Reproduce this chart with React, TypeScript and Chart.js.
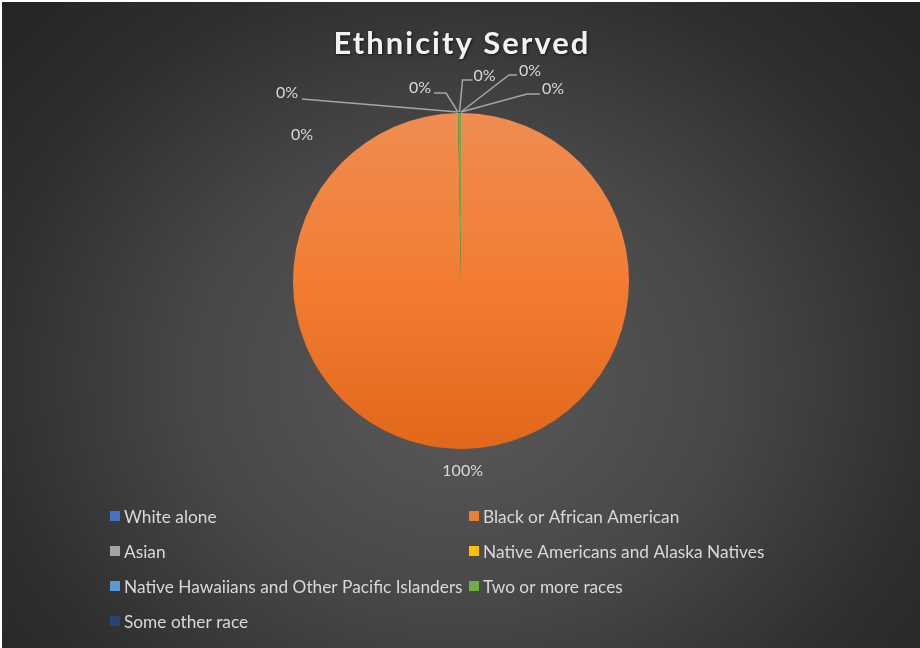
import React, { useEffect, useRef } from "react";
import { Chart, registerables } from "chart.js";

Chart.register(...registerables);

// ---------- data ----------
const chartTitle = "Ethnicity Served";
const categories = [
  "White alone",
  "Black or African American",
  "Asian",
  "Native Americans and Alaska Natives",
  "Native Hawaiians and Other Pacific Islanders",
  "Two or more races",
  "Some other race",
];
const counts = [0, 356, 0, 0, 0, 1, 0];
const sliceColors = ["#4472C4", "#ED7D31", "#A5A5A5", "#FFC000", "#5B9BD5", "#70AD47", "#264478"];

// ---------- label placement (style, px relative to slice anchor) ----------
type Placement = { radial?: number; dx?: number; dy?: number; line?: number[][] | null };
const labelPlacement: Placement[] = [
  { dx: 92, dy: -24, line: [[66, -19], [79, -19]] },
  { radial: 22 },
  { dx: -171, dy: -20, line: [[-156, -14]] },
  { dx: -156, dy: 22, line: null },
  { dx: -38, dy: -25, line: [[-12, -20], [-24, -20]] },
  { dx: 25, dy: -37, line: [[3, -33], [13, -33]] },
  { dx: 69, dy: -42, line: [[48, -38], [56, -38]] },
];

const FONT = "Lato, 'Open Sans', sans-serif";
const TEXT_COLOR = "#D9D9D9";

const backgroundPlugin = {
  id: "bgGradient",
  beforeDraw(chart: any) {
    const { ctx, width, height } = chart;
    ctx.save();
    const cx = width / 2;
    const cy = height * 0.58;
    ctx.translate(cx, cy);
    ctx.scale(1.15, 1);
    const g = ctx.createRadialGradient(0, 0, 0, 0, 0, 520);
    g.addColorStop(0, "#5A5A5A");
    g.addColorStop(0.45, "#474747");
    g.addColorStop(0.8, "#2E2E2E");
    g.addColorStop(1, "#262626");
    ctx.fillStyle = g;
    ctx.fillRect(-cx / 1.15 - 10, -cy - 10, width / 1.15 + 20, height + 20);
    ctx.restore();
  },
};

const titlePlugin = {
  id: "customTitle",
  afterDraw(chart: any) {
    const { ctx, width } = chart;
    ctx.save();
    ctx.font = `bold 31px ${FONT}`;
    (ctx as any).letterSpacing = "2px";
    ctx.textAlign = "center";
    ctx.textBaseline = "alphabetic";
    ctx.shadowColor = "rgba(0,0,0,0.6)";
    ctx.shadowBlur = 3;
    ctx.shadowOffsetX = 1;
    ctx.shadowOffsetY = 1;
    ctx.fillStyle = "#F2F2F2";
    ctx.fillText(chartTitle, width / 2 + 1, 52);
    ctx.restore();
  },
};

const labelsPlugin = {
  id: "pctLabels",
  afterDatasetsDraw(chart: any) {
    const { ctx } = chart;
    const meta = chart.getDatasetMeta(0);
    const values: number[] = chart.data.datasets[0].data;
    const total = values.reduce((a, b) => a + b, 0);
    ctx.save();
    ctx.font = `16px ${FONT}`;
    ctx.fillStyle = TEXT_COLOR;
    ctx.textAlign = "center";
    ctx.textBaseline = "middle";
    meta.data.forEach((arc: any, i: number) => {
      const p = arc.getProps(["x", "y", "startAngle", "endAngle", "outerRadius"], true);
      const mid = (p.startAngle + p.endAngle) / 2;
      const ax = p.x + Math.cos(mid) * p.outerRadius;
      const ay = p.y + Math.sin(mid) * p.outerRadius;
      const pl = labelPlacement[i];
      const text = Math.round((values[i] / total) * 100) + "%";
      let lx: number, ly: number;
      if (pl.radial !== undefined) {
        lx = ax + Math.cos(mid) * pl.radial;
        ly = ay + Math.sin(mid) * pl.radial;
      } else {
        lx = ax + (pl.dx || 0);
        ly = ay + (pl.dy || 0);
        if (pl.line) {
          ctx.save();
          ctx.strokeStyle = "#A6A6A6";
          ctx.lineWidth = 1.5;
          ctx.beginPath();
          ctx.moveTo(ax, ay - 1);
          pl.line.forEach((pt) => ctx.lineTo(ax + pt[0], ay + pt[1]));
          ctx.stroke();
          ctx.restore();
        }
      }
      ctx.fillText(text, lx, ly);
    });
    ctx.restore();
  },
};

const legendPlugin = {
  id: "gridLegend",
  afterDraw(chart: any) {
    const { ctx } = chart;
    const labels: string[] = chart.data.labels;
    const cols = [108, 467];
    const rowY0 = 514;
    const rowGap = 35;
    ctx.save();
    ctx.font = `17.3px ${FONT}`;
    ctx.textAlign = "left";
    ctx.textBaseline = "middle";
    labels.forEach((lab, i) => {
      const col = i % 2;
      const row = Math.floor(i / 2);
      const x = cols[col];
      const y = rowY0 + row * rowGap;
      ctx.fillStyle = sliceColors[i];
      ctx.fillRect(x, y - 5, 10, 10);
      ctx.fillStyle = TEXT_COLOR;
      ctx.fillText(lab, x + 14, y + 1);
    });
    ctx.restore();
  },
};

export default function App() {
  const canvasRef = useRef<HTMLCanvasElement | null>(null);

  useEffect(() => {
    document.body.style.margin = "0";
    const canvas = canvasRef.current;
    if (!canvas) return;
    const chart = new Chart(canvas, {
      type: "pie",
      data: {
        labels: categories,
        datasets: [
          {
            data: counts,
            backgroundColor: (c: any) => {
              const i = c.dataIndex;
              if (i === 1 && c.chart.chartArea) {
                const { top, bottom } = c.chart.chartArea;
                const g = c.chart.ctx.createLinearGradient(0, top, 0, bottom);
                g.addColorStop(0, "#F08C52");
                g.addColorStop(0.5, "#F27D32");
                g.addColorStop(1, "#E2671A");
                return g;
              }
              return sliceColors[i];
            },
            borderWidth: 0,
            hoverOffset: 0,
            offset: 0,
          },
        ],
      },
      options: {
        animation: false,
        responsive: true,
        maintainAspectRatio: false,
        layout: { padding: { top: 111, bottom: 199, left: 0, right: 0 } },
        plugins: {
          legend: { display: false },
          title: { display: false },
          tooltip: { enabled: false },
        },
      },
      plugins: [backgroundPlugin, labelsPlugin, titlePlugin, legendPlugin],
    });
    return () => chart.destroy();
  }, []);

  return (
    <div style={{ width: 920, height: 648, background: "#ffffff", boxSizing: "border-box", paddingTop: 2, paddingLeft: 2 }}>
      <div style={{ position: "relative", width: 918, height: 646 }}>
        <canvas ref={canvasRef} />
      </div>
    </div>
  );
}
